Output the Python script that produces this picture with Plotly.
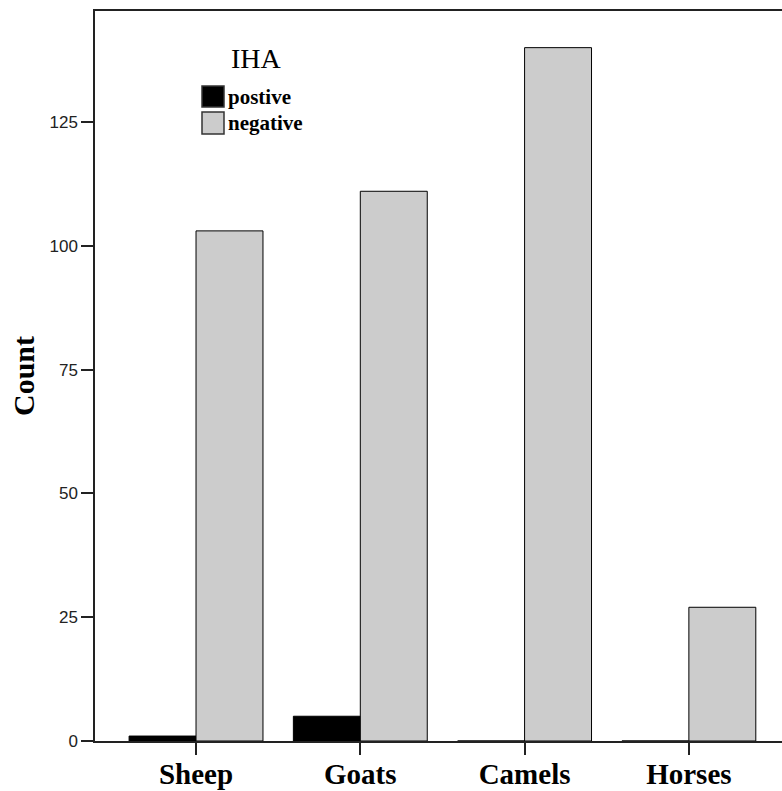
import plotly.graph_objects as go

categories = ["Sheep", "Goats", "Camels", "Horses"]
positive = [1, 5, 0, 0]
negative = [103, 111, 140, 27]
series_names = ["postive", "negative"]
series_colors = ["#000000", "#CCCCCC"]
y_ticks = [0, 25, 50, 75, 100, 125]
legend_title = "IHA"
y_title = "Count"

W, H = 782, 791
L, R, T, B = 95, 0, 11, 50
pw, ph = W - L - R, H - T - B

def px2paper(x, y):
    return (x - L) / pw, (H - B - y) / ph

fig = go.Figure()
for name, vals, col in zip(series_names, [positive, negative], series_colors):
    fig.add_trace(go.Bar(
        x=categories, y=vals, name=name,
        marker=dict(color=col, line=dict(color="#000000", width=1)),
        showlegend=False,
    ))

serif = "Liberation Serif, Times New Roman, serif"
sans = "Liberation Sans, Arial, sans-serif"

fig.update_layout(
    width=W, height=H,
    margin=dict(l=L, r=R, t=T, b=B, pad=0, autoexpand=False),
    plot_bgcolor="white", paper_bgcolor="white",
    barmode="group", bargap=0.185, bargroupgap=0,
    xaxis=dict(
        type="category", range=[-0.615, 3.567], automargin=False,
        showline=True, linecolor="#222", linewidth=1.5, mirror=True,
        ticks="outside", ticklen=12, tickwidth=1.5, tickcolor="#222",
        tickfont=dict(family=serif, size=29, color="#000"),
        ticklabelstandoff=-6,
        showgrid=False,
    ),
    yaxis=dict(
        range=[0, 147.4], tickvals=y_ticks, automargin=False,
        showline=True, linecolor="#222", linewidth=1.5,
        ticks="outside", ticklen=12, tickwidth=1.5, tickcolor="#222",
        tickfont=dict(family=sans, size=17, color="#222"),
        showgrid=False, zeroline=False,
        title=dict(text="<b>" + y_title + "</b>", font=dict(family=serif, size=30, color="#000"), standoff=6),
    ),
)

# Legend drawn as boxes + labels
box_px = [(202, 86, 224, 107), (202, 112, 224, 134)]
text_y_px = [97, 123]
for (x0, y0, x1, y1), col, name, ty in zip(box_px, series_colors, series_names, text_y_px):
    px0, py0 = px2paper(x0, y1)
    px1, py1 = px2paper(x1, y0)
    fig.add_shape(type="rect", xref="paper", yref="paper", x0=px0, x1=px1, y0=py0, y1=py1,
                  fillcolor=col, line=dict(color="#333", width=1.5))
    tx, tyy = px2paper(226, ty)
    fig.add_annotation(xref="paper", yref="paper", x=tx, y=tyy, xanchor="left", yanchor="middle",
                       text="<b>" + name + "</b>", showarrow=False,
                       font=dict(family=serif, size=21, color="#000"))
lx, ly = px2paper(256, 59)
fig.add_annotation(xref="paper", yref="paper", x=lx, y=ly, xanchor="center", yanchor="middle",
                   text=legend_title, showarrow=False, font=dict(family=serif, size=28, color="#000"))

fig.update_xaxes(ticktext=["<b>" + c + "</b>" for c in categories], tickvals=categories)

fig.write_html("out.html", config={"displayModeBar": False},
               post_script="document.body.style.margin='0';")
